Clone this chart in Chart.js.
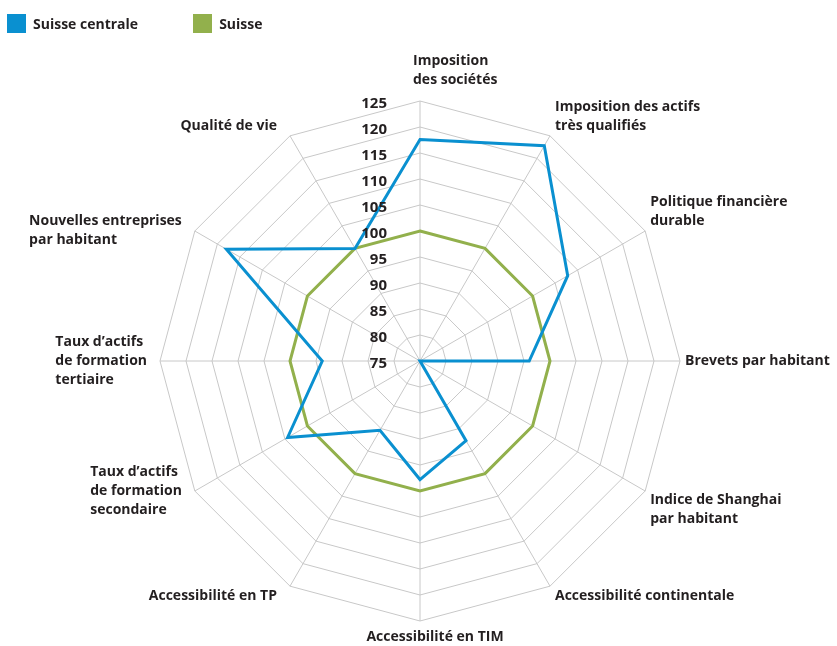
<!DOCTYPE html>
<html>
<head>
<meta charset="utf-8">
<script src="https://cdn.jsdelivr.net/npm/chart.js@4"></script>
<style>
  body { margin: 0; background: #fff; }
  #wrap { position: relative; width: 837px; height: 646px; }
  #legend { position: absolute; left: 7px; top: 14px; display: flex; font: bold 14px "Open Sans", sans-serif; color: #231f20; }
  .item { display: flex; align-items: center; margin-right: 55px; line-height: 19px; }
  .box { width: 19px; height: 19px; margin-right: 7px; }
</style>
</head>
<body>
<div id="wrap">
  <canvas id="radarChart" width="837" height="646"></canvas>
  <div id="legend"></div>
</div>
<script>
const categories = [
  ['Imposition', 'des sociétés'],
  ['Imposition des actifs', 'très qualifiés'],
  ['Politique financière', 'durable'],
  ['Brevets par habitant'],
  ['Indice de Shanghai', 'par habitant'],
  ['Accessibilité continentale'],
  ['Accessibilité en TIM'],
  ['Accessibilité en TP'],
  ['Taux d’actifs', 'de formation', 'secondaire'],
  ['Taux d’actifs', 'de formation', 'tertiaire'],
  ['Nouvelles entreprises', 'par habitant'],
  ['Qualité de vie']
];
const seriesNames = ['Suisse centrale', 'Suisse'];
const suisseCentrale = [117.6, 122.8, 107.8, 96, 75, 92.7, 97.8, 90.4, 104.4, 93.8, 118, 100];
const suisse = [100, 100, 100, 100, 100, 100, 100, 100, 100, 100, 100, 100];
const scaleMin = 75;
const scaleMax = 125;
const scaleStep = 5;

const colors = ['#0a90d0', '#92b04c'];
const textColor = '#231f20';
const fontFamily = '"Open Sans", sans-serif';

// tick numbers sit left of the top axis, axis names hug the outer ring
const axisText = {
  id: 'axisText',
  afterDatasetsDraw(chart) {
    const scale = chart.scales.r;
    const ctx = chart.ctx;
    ctx.save();
    ctx.fillStyle = textColor;
    ctx.font = 'bold 15px ' + fontFamily;
    ctx.textAlign = 'right';
    ctx.textBaseline = 'middle';
    scale.ticks.forEach(t => {
      const d = scale.getDistanceFromCenterForValue(t.value);
      ctx.fillText(t.label, scale.xCenter - 33, scale.yCenter - d + 3);
    });

    ctx.font = 'bold 14px ' + fontFamily;
    ctx.textAlign = 'left';
    const lh = 19;
    categories.forEach((lines, i) => {
      const v = scale.getPointPosition(i, scale.drawingArea);
      const a = scale.getIndexAngle(i);
      const s = Math.sin(a), c = Math.cos(a);
      const w = Math.max(...lines.map(l => ctx.measureText(l).width));
      const h = lines.length * lh;
      let x, y;
      if (Math.abs(s) < 0.1) x = c > 0 ? v.x - 7 : v.x + 15 - w / 2;
      else if (s > 0) x = v.x + 5;
      else x = v.x - 13 - w;

      if (Math.abs(s) < 0.1) y = c > 0 ? v.y - 11 - h : v.y + 7;
      else if (s < 0 && Math.abs(c) < 0.6) y = v.y - h / 2;
      else if (c > 0.3) y = v.y - h;
      else if (c < -0.3) y = v.y;
      else y = v.y - h / 2;

      lines.forEach((l, k) => ctx.fillText(l, x, y + lh * k + lh / 2));
    });
    ctx.restore();
  }
};

const ctx = document.getElementById('radarChart').getContext('2d');
const radarChart = new Chart(ctx, {
  type: 'radar',
  data: {
    labels: categories,
    datasets: [
      { label: seriesNames[0], data: suisseCentrale, borderColor: colors[0], backgroundColor: colors[0] },
      { label: seriesNames[1], data: suisse, borderColor: colors[1], backgroundColor: colors[1] }
    ]
  },
  options: {
    responsive: false,
    animation: false,
    layout: { padding: { top: 101, bottom: 25, left: 3, right: 0 } },
    elements: {
      line: { borderWidth: 3, tension: 0, fill: false },
      point: { radius: 0, hoverRadius: 0 }
    },
    scales: {
      r: {
        min: scaleMin,
        max: scaleMax,
        ticks: { stepSize: scaleStep, display: false },
        grid: { color: '#c8c8c8', lineWidth: 1 },
        angleLines: { color: '#c8c8c8', lineWidth: 1 },
        pointLabels: { display: false }
      }
    },
    plugins: {
      legend: { display: false },
      tooltip: { enabled: false }
    }
  },
  plugins: [axisText]
});

// legend as plain html
const legend = document.getElementById('legend');
seriesNames.forEach((name, i) => {
  const item = document.createElement('div');
  item.className = 'item';
  item.innerHTML = '<span class="box" style="background:' + colors[i] + '"></span><span>' + name + '</span>';
  legend.appendChild(item);
});
</script>
</body>
</html>
